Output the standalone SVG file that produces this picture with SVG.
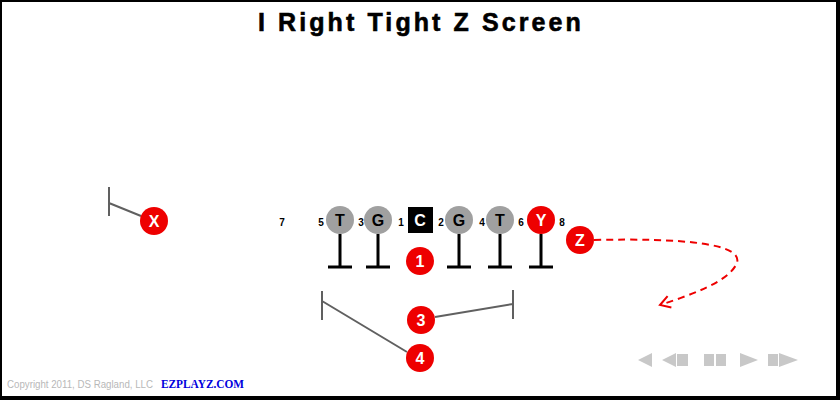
<svg xmlns="http://www.w3.org/2000/svg" width="840" height="400" viewBox="0 0 840 400">
<style>
.gray{fill:#a0a0a0}
.red{fill:#ee0000}
.lbl{font-family:"Liberation Sans",Arial,sans-serif;font-weight:bold;font-size:16px;text-anchor:middle}
.w{fill:#fff}
.k{fill:#000}
.num{font-family:"Liberation Sans",Arial,sans-serif;font-weight:bold;font-size:10px;text-anchor:middle;fill:#000}
.blk{stroke:#000;stroke-width:3;fill:none}
.rt{stroke:#606060;stroke-width:2;fill:none}
.ctl{fill:#c8c8c8}
</style>
<defs>
<marker id="arr" viewBox="0 0 14 14" refX="12" refY="7" markerWidth="14" markerHeight="14" markerUnits="userSpaceOnUse" orient="auto">
<path d="M2,1 L12,7 L2,13" fill="none" stroke="#ee0000" stroke-width="2"/>
</marker>
</defs>
<rect x="0" y="0" width="840" height="400" fill="#fff"/>
<path d="M1,0 V398 M0,1 H838" stroke="#000" stroke-width="2"/>
<path d="M838,0 V400 M0,398 H840" stroke="#000" stroke-width="4"/>
<text x="421" y="31" font-family="'Liberation Sans',Arial,sans-serif" font-weight="bold" font-size="25" letter-spacing="3.2" text-anchor="middle" textLength="326" lengthAdjust="spacing" stroke="#000" stroke-width="0.6">I Right Tight Z Screen</text>
<g id="connectors">
<path class="blk" d="M340,234 V267 M328,267 H352"/>
<path class="blk" d="M378,234 V267 M366,267 H390"/>
<path class="blk" d="M459,234 V267 M447,267 H471"/>
<path class="blk" d="M500,234 V267 M488,267 H512"/>
<path class="blk" d="M541,234 V267 M529,267 H553"/>
<path class="rt" d="M109,187 V216 M109,203 L141,216"/>
<path class="rt" d="M513,290 V319 M513,304 L435,317"/>
<path class="rt" d="M322,291 V320 M322,301 L407,352"/>
<path d="M594,240 C680,238 748,243 736,265 C726,283 690,295 660,305" fill="none" stroke="#ee0000" stroke-width="2" stroke-dasharray="7,5" marker-end="url(#arr)"/>
</g>
<g id="n7"><text class="num" x="282" y="226">7</text></g>
<g id="n5"><text class="num" x="321" y="226">5</text></g>
<g id="n3"><text class="num" x="361" y="226">3</text></g>
<g id="n1h"><text class="num" x="401" y="226">1</text></g>
<g id="n2"><text class="num" x="441" y="226">2</text></g>
<g id="n4"><text class="num" x="482" y="226">4</text></g>
<g id="n6"><text class="num" x="521" y="226">6</text></g>
<g id="n8"><text class="num" x="562" y="226">8</text></g>
<g id="LT"><circle class="gray" cx="340" cy="220" r="14"/><text class="lbl k" x="340" y="226">T</text></g>
<g id="LG"><circle class="gray" cx="378" cy="220" r="14"/><text class="lbl k" x="378" y="226">G</text></g>
<g id="C"><rect x="408" y="207" width="25" height="26" fill="#000"/><text class="lbl w" x="420" y="226">C</text></g>
<g id="RG"><circle class="gray" cx="459" cy="220" r="14"/><text class="lbl k" x="459" y="226">G</text></g>
<g id="RT"><circle class="gray" cx="500" cy="220" r="14"/><text class="lbl k" x="500" y="226">T</text></g>
<g id="Y"><circle class="red" cx="541" cy="220" r="14"/><text class="lbl w" x="541" y="226">Y</text></g>
<g id="Z"><circle class="red" cx="580" cy="240" r="14"/><text class="lbl w" x="580" y="246">Z</text></g>
<g id="X"><circle class="red" cx="154" cy="221" r="14"/><text class="lbl w" x="154" y="227">X</text></g>
<g id="p1"><circle class="red" cx="420" cy="261" r="14"/><text class="lbl w" x="420" y="267">1</text></g>
<g id="p3"><circle class="red" cx="421" cy="320" r="14"/><text class="lbl w" x="421" y="326">3</text></g>
<g id="p4"><circle class="red" cx="420" cy="358" r="14"/><text class="lbl w" x="420" y="364">4</text></g>
<text x="7" y="388" font-family="'Liberation Sans',Arial,sans-serif" font-size="10" fill="#b8b8b8" textLength="146" lengthAdjust="spacingAndGlyphs">Copyright 2011, DS Ragland, LLC</text>
<text x="161" y="388" font-family="'Liberation Serif','Times New Roman',serif" font-weight="bold" font-size="11.5" fill="#0000dd" textLength="83" lengthAdjust="spacingAndGlyphs">EZPLAYZ.COM</text>
<g id="controls">
<path class="ctl" d="M638,360 L652,353 V367 Z"/>
<path class="ctl" d="M662,360 L676,353 V367 Z M677,354 H688 V366 H677 Z"/>
<path class="ctl" d="M704,354 H714 V366 H704 Z M716,354 H726 V366 H716 Z"/>
<path class="ctl" d="M740,353 L758,360 L740,367 Z"/>
<path class="ctl" d="M768,354 H778 V366 H768 Z M779,353 L798,360 L779,367 Z"/>
</g>
</svg>
